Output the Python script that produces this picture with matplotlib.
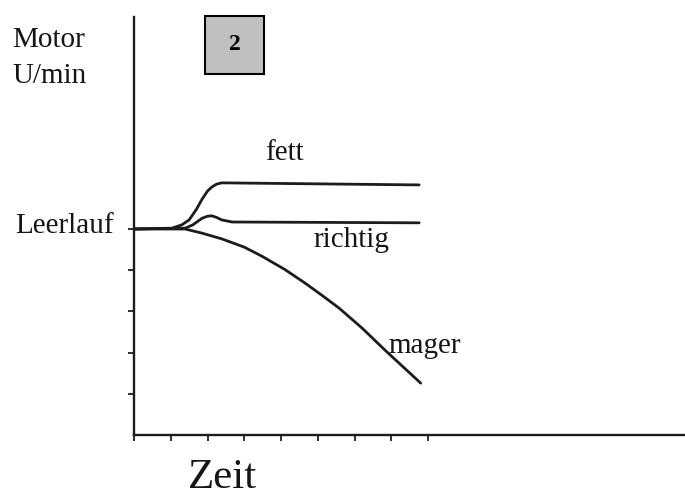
import numpy as np
import matplotlib
matplotlib.use("Agg")
import matplotlib.pyplot as plt

# curve data (time units, rpm in tick units; Leerlauf = 5)
fett_x = [0.0, 1.03, 1.30, 1.50, 1.70, 1.85, 2.00, 2.12, 2.25, 2.39, 7.76]
fett_y = [5.0, 5.02, 5.10, 5.22, 5.48, 5.72, 5.92, 6.02, 6.09, 6.12, 6.07]

richtig_x = [0.0, 1.39, 1.60, 1.85, 2.00, 2.12, 2.25, 2.39, 2.67, 7.76]
richtig_y = [5.0, 5.02, 5.10, 5.26, 5.31, 5.32, 5.28, 5.22, 5.17, 5.15]

mager_x = [0.0, 1.39, 1.85, 2.39, 3.00, 3.48, 4.10, 4.65, 5.10, 5.58, 6.20, 6.83, 7.80]
mager_y = [5.0, 5.0, 4.90, 4.76, 4.56, 4.34, 4.02, 3.69, 3.40, 3.08, 2.60, 2.06, 1.26]

xticks = list(range(0, 9))
yticks = [1, 2, 3, 4, 5]

W, H = 685, 497
fig = plt.figure(figsize=(W/100, H/100), dpi=100)
x0, y0 = 134, 435          # origin in pixels
ux, uy = 36.75, 41.2       # pixels per unit
ax = fig.add_axes([x0/W, (H-y0)/H, 1-x0/W, (y0-17)/H])
ax.set_xlim(0, (W-x0)/ux)
ax.set_ylim(0, (y0-17)/uy)

lc = '#1c1c1c'
for xs, ys in [(fett_x, fett_y), (richtig_x, richtig_y), (mager_x, mager_y)]:
    ax.plot(xs, ys, color=lc, lw=2.0, solid_capstyle='round', solid_joinstyle='round')

for s in ['top', 'right']:
    ax.spines[s].set_visible(False)
for s in ['left', 'bottom']:
    ax.spines[s].set_linewidth(1.7)
    ax.spines[s].set_color(lc)

ax.set_xticks(xticks)
ax.set_yticks(yticks)
ax.set_xticklabels([])
ax.set_yticklabels([])
ax.tick_params(axis='both', direction='out', length=4, width=1.3, color=lc)

serif = ['Liberation Serif', 'DejaVu Serif']
tc = '#151515'
fs = 21

def px(x, y):
    return ((x - x0)/ux, (y0 - y)/uy)

ax.text(*px(15, 233), 'Leerlauf', fontsize=fs, family=serif, color=tc,
        ha='left', va='baseline', clip_on=False)
ax.text(*px(265, 160), 'fett', fontsize=fs, family=serif, color=tc, ha='left', va='baseline')
ax.text(*px(313, 247), 'richtig', fontsize=fs, family=serif, color=tc, ha='left', va='baseline')
ax.text(*px(388, 353), 'mager', fontsize=fs, family=serif, color=tc, ha='left', va='baseline')

fig.text(12/W, 1-47/H, 'Motor', fontsize=fs, family=serif, color=tc, ha='left', va='baseline')
fig.text(12/W, 1-83/H, 'U/min', fontsize=fs, family=serif, color=tc, ha='left', va='baseline')
fig.text(188/W, 1-488/H, 'Zeit', fontsize=31, family=serif, color=tc, ha='left', va='baseline')

# numbered box
fig.patches.append(plt.Rectangle((205/W, 1-74/H), 59/W, 58/H, transform=fig.transFigure,
                                 facecolor='#c0c0c0', edgecolor='black', lw=1.5))
fig.text(235/W, 1-45/H, '2', fontsize=17, family=serif, weight='bold', color='black',
         ha='center', va='center')

fig.savefig('out.png', dpi=100)
